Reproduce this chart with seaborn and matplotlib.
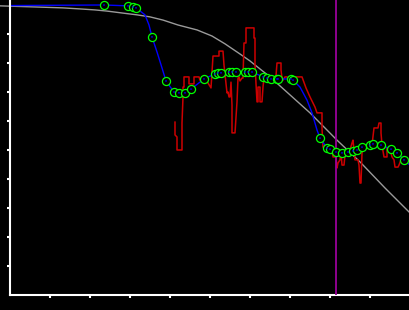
import matplotlib
matplotlib.use("Agg")
import matplotlib.pyplot as plt
import seaborn as sns
import numpy as np

# Reference (gray) curve
ref_x = [-2.5, 6.75, 13.25, 18.0, 21.25, 24.25, 28.25, 31.75, 35.0, 38.25, 42.0, 46.75,
         50.5, 53.75, 57.5, 60.0, 65.0, 70.0, 75.0, 81.75, 87.5, 93.75, 100.0]
ref_y = [99.7, 99.3, 99.0, 98.6, 98.3, 97.9, 97.2, 96.6, 95.9, 94.8, 93.1, 91.4,
         89.3, 86.6, 83.1, 80.7, 75.2, 69.0, 62.8, 53.4, 45.9, 36.9, 28.3]

# Raw measurements (red)
raw_x = [41.25, 41.25, 41.75, 41.75, 43.0, 43.0, 43.25, 43.25, 43.5, 43.5, 44.75, 44.75,
         46.0, 46.0, 47.25, 47.5, 49.25, 49.5, 50.25, 50.75, 52.25, 52.25, 53.25, 53.5,
         54.0, 54.25, 54.5, 54.75, 55.0, 55.25, 55.5, 55.5, 56.25, 56.5, 56.75, 57.0,
         57.25, 57.5, 58.0, 58.25, 58.5, 59.0, 59.0, 61.0, 61.0, 61.25, 61.25, 61.75,
         62.0, 62.0, 62.5, 62.5, 63.0, 63.25, 63.5, 63.75, 64.25, 64.5, 65.0, 65.5,
         66.0, 66.5, 66.75, 67.75, 67.75, 68.0, 68.25, 68.75, 69.25, 69.5, 69.75, 73.0,
         74.0, 75.0, 76.25, 76.75, 78.0, 78.0, 78.25, 79.0, 79.25, 79.75, 80.25, 80.5,
         80.75, 81.5, 81.75, 82.0, 82.5, 82.75, 83.0, 83.5, 83.75, 84.25, 84.5, 85.0,
         85.5, 85.75, 86.0, 86.25, 87.0, 87.25, 87.5, 87.75, 88.0, 88.25, 89.0, 90.0,
         90.5, 90.75, 91.0, 92.0, 92.25, 92.75, 92.75, 93.0, 93.5, 94.25, 94.25, 95.0,
         95.5, 96.0, 96.25, 97.0, 97.25, 97.75, 98.25, 98.75, 99.5, 100.0]
raw_y = [59.7, 55.2, 54.5, 50.0, 50.0, 59.3, 68.3, 71.7, 71.7, 75.2, 75.2, 72.8,
         72.8, 75.2, 75.2, 74.1, 74.1, 73.1, 71.4, 82.4, 82.4, 84.1, 84.1, 79.3,
         73.1, 69.7, 70.0, 68.3, 68.3, 73.4, 65.5, 55.9, 55.9, 61.0, 66.6, 74.8,
         75.2, 73.8, 74.8, 74.8, 86.9, 86.9, 92.1, 92.1, 88.6, 88.6, 79.3, 66.6,
         66.6, 71.7, 71.7, 66.6, 66.6, 71.7, 74.8, 75.9, 75.9, 74.8, 74.1, 74.1,
         74.8, 75.5, 80.0, 80.0, 77.6, 74.8, 74.1, 75.2, 75.2, 74.8, 75.2, 75.2,
         71.4, 68.3, 64.8, 62.8, 62.8, 57.6, 51.0, 51.0, 50.0, 50.0, 51.0, 50.0,
         47.6, 47.6, 43.8, 45.5, 46.6, 49.0, 44.8, 44.8, 48.3, 48.3, 49.3, 50.0,
         52.4, 53.4, 50.0, 46.6, 46.6, 44.8, 38.6, 38.6, 49.0, 50.0, 50.7, 50.7,
         51.7, 54.5, 57.6, 57.6, 59.3, 59.3, 55.9, 51.7, 47.6, 47.6, 50.7, 50.3,
         47.6, 46.6, 44.1, 44.1, 44.8, 46.6, 46.6, 47.2, 46.6, 45.9]

# Filtered samples (green circles)
pts_x = [23.5, 29.5, 30.75, 31.5, 35.5, 39.0, 41.0, 42.25, 43.75, 45.25, 48.5, 51.25,
         52.0, 52.75, 54.75, 55.5, 56.5, 58.75, 59.5, 60.5, 63.25, 64.25, 65.25, 66.75,
         67.0, 70.25, 70.75, 77.5, 79.25, 80.0, 81.5, 83.0, 84.5, 85.75, 86.75, 88.0,
         90.0, 90.75, 92.75, 95.25, 96.75, 98.5]
pts_y = [100.0, 99.7, 99.3, 99.0, 89.0, 73.8, 70.0, 69.7, 69.7, 71.0, 74.5, 76.2,
         76.6, 76.6, 76.9, 76.9, 76.9, 76.9, 76.9, 76.9, 75.2, 74.8, 74.5, 74.5,
         74.5, 74.5, 74.1, 54.1, 50.7, 50.3, 49.3, 49.0, 49.3, 49.7, 50.0, 51.0,
         51.7, 52.1, 51.7, 50.3, 49.0, 46.6]

# Smoothed curve (blue)
fit_x = [0.0, 23.5, 29.5, 30.75, 31.5, 33.75, 34.75, 35.5, 36.75, 38.0, 39.0, 40.25,
         41.0, 42.25, 43.75, 45.25, 48.5, 51.25, 52.0, 52.75, 54.75, 55.5, 56.5, 58.75,
         59.5, 60.5, 63.25, 64.25, 65.25, 66.75, 67.0, 70.25, 70.75, 72.5, 74.25, 75.5,
         76.75, 77.5, 79.25, 80.0, 81.5, 83.0, 84.5, 85.75, 86.75, 88.0, 90.0, 90.75,
         92.75, 95.25, 96.75, 98.5, 100.0]
fit_y = [99.8, 100.0, 99.7, 99.3, 99.0, 96.6, 93.1, 89.0, 83.8, 78.3, 73.8, 71.4,
         70.0, 69.7, 69.7, 71.0, 74.5, 76.2, 76.6, 76.6, 76.9, 76.9, 76.9, 76.9,
         76.9, 76.9, 75.2, 74.8, 74.5, 74.5, 74.5, 74.5, 74.1, 71.7, 67.2, 62.8,
         56.9, 54.1, 50.7, 50.3, 49.3, 49.0, 49.3, 49.7, 50.0, 51.0, 51.7, 52.1,
         51.7, 50.3, 49.0, 46.6, 44.8]

marker_x = 81.6
x_ticks = [10, 20, 30, 40, 50, 60, 70, 80, 90]
y_ticks = [10, 20, 30, 40, 50, 60, 70, 80, 90]

sns.set_style("dark")
fig = plt.figure(figsize=(4.1, 3.1), dpi=100, facecolor="black")
ax = fig.add_axes([0, 0, 1, 1])
ax.set_facecolor("black")

sns.lineplot(x=ref_x, y=ref_y, sort=False, estimator=None, color="#9a9a9a", lw=1.0, ax=ax)
sns.lineplot(x=raw_x, y=raw_y, sort=False, estimator=None, color="#cc0000", lw=1.1, ax=ax)
sns.lineplot(x=fit_x, y=fit_y, sort=False, estimator=None, color="#0000ff", lw=1.0, ax=ax)
ax.vlines(marker_x, 0, 102, color="#990099", lw=1.3, zorder=5)
sns.scatterplot(x=pts_x, y=pts_y, marker="o", s=34, facecolor="black",
                edgecolor="#00ff00", linewidth=0.9, ax=ax, zorder=6)
sns.scatterplot(x=pts_x, y=pts_y, marker="o", s=1.5, color="#0000ff",
                edgecolor="none", ax=ax, zorder=7)

ax.set_xlim(-2.5, 100)
ax.set_ylim(-5.17, 101.72)
ax.grid(False)
for s in ["top", "right"]:
    ax.spines[s].set_visible(False)
for s in ["left", "bottom"]:
    ax.spines[s].set_visible(True)
    ax.spines[s].set_color("white")
    ax.spines[s].set_linewidth(1.5)
    ax.spines[s].set_position(("data", 0))
ax.spines["bottom"].set_bounds(0, 100)
ax.spines["left"].set_bounds(0, 101.72)
ax.set_xticks(x_ticks)
ax.set_yticks(y_ticks)
ax.tick_params(axis="both", direction="out", length=2.5, width=1.5, color="white",
               labelbottom=False, labelleft=False, bottom=True, left=True)
ax.set_xlabel("")
ax.set_ylabel("")

fig.savefig("out.png", dpi=100, facecolor="black")
